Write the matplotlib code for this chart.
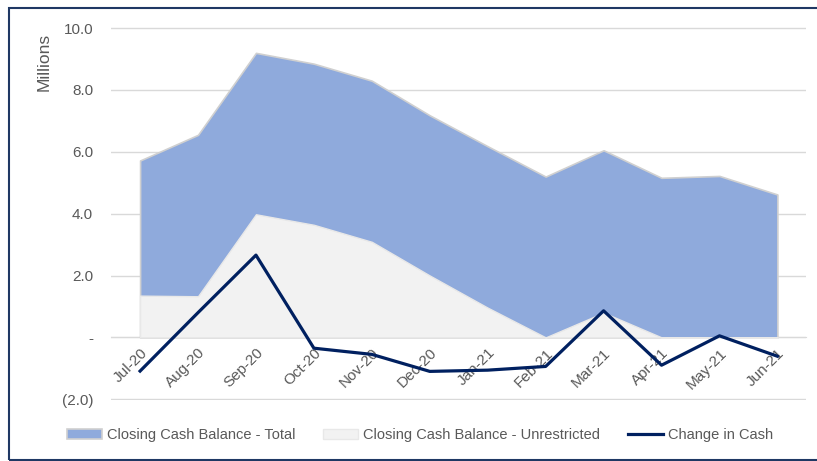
import matplotlib.pyplot as plt
from matplotlib.patches import Rectangle
from matplotlib.ticker import FuncFormatter
import numpy as np

months = ["Jul-20", "Aug-20", "Sep-20", "Oct-20", "Nov-20", "Dec-20",
          "Jan-21", "Feb-21", "Mar-21", "Apr-21", "May-21", "Jun-21"]
total = [5.72, 6.55, 9.20, 8.85, 8.30, 7.18, 6.18, 5.20, 6.05, 5.16, 5.22, 4.62]
unrestricted = [1.35, 1.33, 3.98, 3.64, 3.09, 2.00, 0.96, 0.0, 0.80, 0.0, 0.0, 0.0]
change = [-1.09, 0.80, 2.66, -0.35, -0.55, -1.10, -1.06, -0.94, 0.86, -0.90, 0.05, -0.61]

plt.rcParams['font.family'] = ['Liberation Sans', 'DejaVu Sans']
grey = "#595959"

fig = plt.figure(figsize=(8.17, 4.61), dpi=100)
ax = fig.add_axes([0.136, 0.132, 0.851, 0.809])

x = np.arange(len(months))
ax.fill_between(x, total, color="#8FAADC", edgecolor="#D0D0D0", linewidth=1.2,
                label="Closing Cash Balance - Total", zorder=2)
ax.fill_between(x, unrestricted, color="#F2F2F2", edgecolor="#E8E8E8", linewidth=1.0,
                label="Closing Cash Balance - Unrestricted", zorder=3)
ax.plot(x, change, color="#002060", linewidth=2.3, label="Change in Cash", zorder=4)

ax.set_xlim(-0.5, 11.5)
ax.set_ylim(-2.03, 10.03)
ax.set_yticks(np.arange(-2, 11, 2))


def fmt(v, pos):
    if abs(v) < 1e-9:
        return "-"
    if v < 0:
        return "(%.1f)" % abs(v)
    return "%.1f" % v


ax.yaxis.set_major_formatter(FuncFormatter(fmt))
ax.grid(axis="y", color="#D9D9D9", linewidth=1.0, zorder=0)
ax.set_axisbelow(True)
for s in ["top", "right", "left"]:
    ax.spines[s].set_visible(False)
ax.spines["bottom"].set_position(("data", 0))
ax.spines["bottom"].set_color("#D9D9D9")
ax.spines["bottom"].set_zorder(1)

ax.set_xticks(x)
ax.set_xticklabels(months, rotation=45, ha="right", rotation_mode="anchor")
ax.tick_params(axis="x", length=0, pad=6, labelsize=11, labelcolor=grey)
ax.tick_params(axis="y", length=0, pad=13, labelsize=11, labelcolor=grey)
ax.set_ylabel("Millions", color=grey, fontsize=12.5)
ax.yaxis.set_label_coords(-0.086, 0.906)

fig.legend(loc="center", bbox_to_anchor=(0.514, 0.056), ncol=3, frameon=False,
           fontsize=10.5, labelcolor=grey, handlelength=2.4, handleheight=0.75,
           handletextpad=0.35, columnspacing=1.9)

fig.patches.append(Rectangle((0.011, 0.003), 1.0, 0.98, transform=fig.transFigure,
                             fill=False, edgecolor="#1F3864", linewidth=1.5))

fig.savefig("out.png", dpi=100)
